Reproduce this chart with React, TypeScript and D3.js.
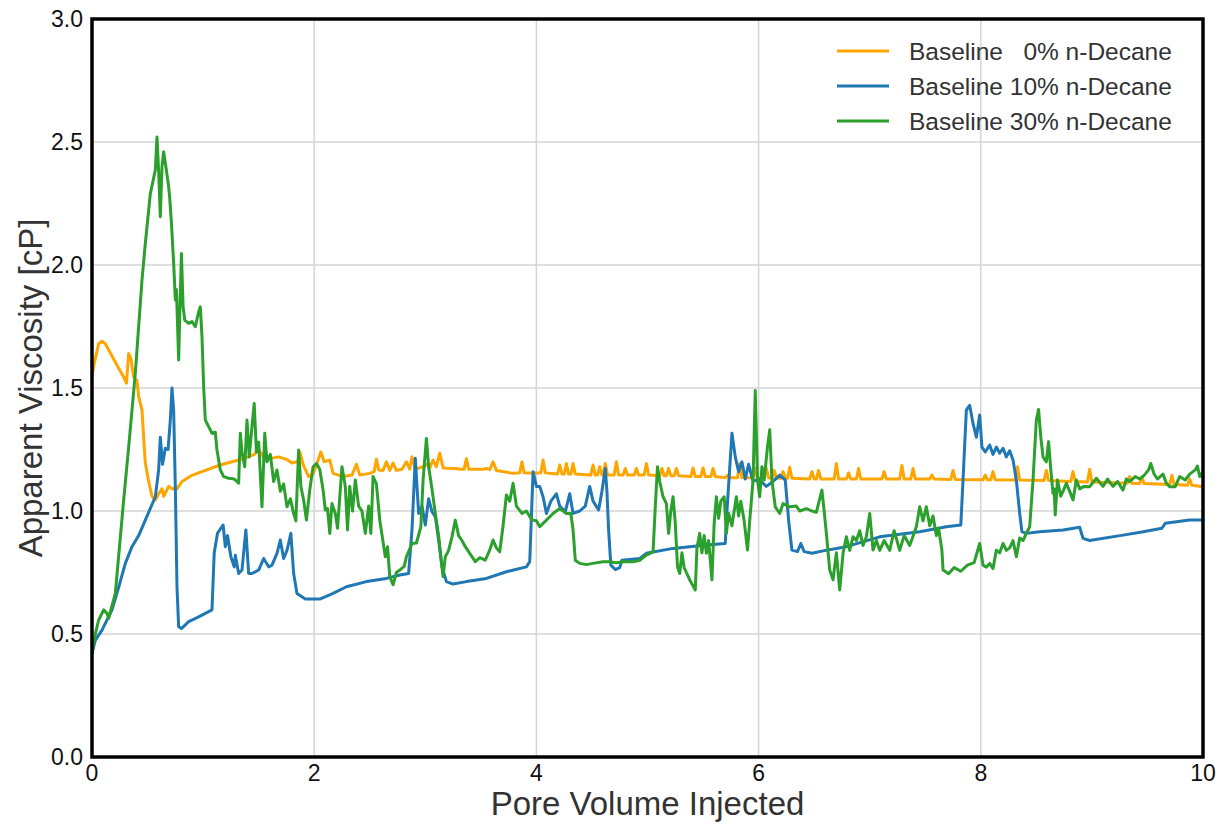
import React from "react";
import * as d3 from "d3";

// Apparent viscosity [cP] against pore volume injected, one array per run: [PV, cP]
const baseline0: [number, number][] = [
  [0, 1.55], [0.02, 1.6], [0.06, 1.68], [0.09, 1.69], [0.12, 1.68], [0.18, 1.63], [0.24, 1.58], [0.285, 1.545],
  [0.31, 1.52], [0.33, 1.64], [0.35, 1.62], [0.375, 1.545], [0.405, 1.53], [0.42, 1.465], [0.45, 1.41], [0.465, 1.3],
  [0.48, 1.195], [0.51, 1.12], [0.54, 1.06], [0.57, 1.045], [0.6, 1.07], [0.63, 1.09], [0.645, 1.06], [0.69, 1.1],
  [0.72, 1.09], [0.765, 1.09], [0.81, 1.12], [0.9, 1.145], [1.02, 1.165], [1.14, 1.185], [1.26, 1.2], [1.38, 1.215],
  [1.46, 1.23], [1.5, 1.25], [1.54, 1.22], [1.62, 1.215], [1.68, 1.22], [1.75, 1.21], [1.8, 1.195], [1.85, 1.2],
  [1.87, 1.24], [1.9, 1.19], [1.95, 1.14], [1.99, 1.15], [2.03, 1.2], [2.06, 1.24], [2.09, 1.2], [2.14, 1.207],
  [2.17, 1.153], [2.26, 1.14], [2.34, 1.146], [2.38, 1.19], [2.41, 1.146], [2.5, 1.153], [2.54, 1.16], [2.56, 1.21],
  [2.58, 1.167], [2.62, 1.165], [2.65, 1.2], [2.68, 1.165], [2.71, 1.195], [2.74, 1.165], [2.79, 1.17], [2.83, 1.2],
  [2.86, 1.17], [2.88, 1.22], [2.91, 1.17], [2.98, 1.18], [3.01, 1.19], [3.04, 1.175], [3.07, 1.207], [3.1, 1.18],
  [3.13, 1.235], [3.16, 1.175], [3.24, 1.173], [3.28, 1.173], [3.31, 1.17], [3.35, 1.17], [3.37, 1.213], [3.39, 1.17],
  [3.52, 1.17], [3.55, 1.173], [3.58, 1.168], [3.61, 1.2], [3.64, 1.165], [3.79, 1.153], [3.85, 1.155], [3.87, 1.2],
  [3.89, 1.155], [3.97, 1.153], [4.04, 1.155], [4.06, 1.207], [4.08, 1.155], [4.19, 1.15], [4.21, 1.187], [4.23, 1.15],
  [4.25, 1.15], [4.27, 1.193], [4.29, 1.15], [4.31, 1.15], [4.33, 1.193], [4.35, 1.15], [4.49, 1.146], [4.51, 1.187],
  [4.53, 1.146], [4.55, 1.146], [4.57, 1.18], [4.59, 1.146], [4.6, 1.146], [4.62, 1.193], [4.64, 1.146], [4.7, 1.146],
  [4.72, 1.2], [4.74, 1.146], [4.78, 1.146], [4.8, 1.173], [4.82, 1.146], [4.88, 1.146], [4.9, 1.173], [4.92, 1.146],
  [4.97, 1.146], [4.99, 1.193], [5.01, 1.146], [5.11, 1.143], [5.13, 1.173], [5.15, 1.143], [5.17, 1.143], [5.19, 1.173],
  [5.21, 1.143], [5.24, 1.143], [5.26, 1.173], [5.28, 1.143], [5.39, 1.14], [5.41, 1.175], [5.43, 1.14], [5.48, 1.14],
  [5.5, 1.175], [5.52, 1.14], [5.57, 1.14], [5.59, 1.173], [5.61, 1.14], [5.7, 1.135], [5.72, 1.145], [5.74, 1.135],
  [5.81, 1.135], [5.83, 1.193], [5.85, 1.135], [5.95, 1.135], [5.97, 1.173], [5.99, 1.135], [6.05, 1.134], [6.07, 1.173],
  [6.09, 1.134], [6.12, 1.134], [6.14, 1.165], [6.16, 1.134], [6.2, 1.133], [6.22, 1.16], [6.24, 1.133], [6.26, 1.133],
  [6.28, 1.178], [6.3, 1.133], [6.46, 1.13], [6.48, 1.16], [6.5, 1.13], [6.52, 1.13], [6.54, 1.165], [6.56, 1.13],
  [6.68, 1.13], [6.7, 1.193], [6.72, 1.13], [6.79, 1.13], [6.81, 1.155], [6.83, 1.13], [6.88, 1.13], [6.9, 1.173],
  [6.92, 1.13], [7.11, 1.13], [7.13, 1.16], [7.15, 1.13], [7.27, 1.13], [7.29, 1.185], [7.31, 1.13], [7.37, 1.13],
  [7.39, 1.173], [7.41, 1.13], [7.54, 1.13], [7.56, 1.146], [7.58, 1.13], [7.73, 1.128], [7.75, 1.165], [7.77, 1.128],
  [8.02, 1.127], [8.04, 1.146], [8.06, 1.127], [8.09, 1.127], [8.11, 1.16], [8.13, 1.127], [8.31, 1.126], [8.33, 1.18],
  [8.35, 1.126], [8.57, 1.124], [8.59, 1.165], [8.61, 1.124], [8.81, 1.12], [8.83, 1.16], [8.85, 1.12], [8.96, 1.118],
  [8.98, 1.17], [9.0, 1.118], [9.32, 1.113], [9.34, 1.14], [9.36, 1.113], [9.43, 1.112], [9.45, 1.135], [9.47, 1.112],
  [9.7, 1.108], [9.72, 1.145], [9.74, 1.108], [9.86, 1.105], [9.88, 1.13], [9.9, 1.105], [10, 1.098],
];

const baseline10: [number, number][] = [
  [0, 0.42], [0.03, 0.475], [0.09, 0.516], [0.18, 0.598], [0.24, 0.69], [0.3, 0.787], [0.36, 0.855],
  [0.42, 0.9], [0.48, 0.963], [0.57, 1.058], [0.6, 1.167], [0.615, 1.3], [0.635, 1.19], [0.66, 1.255],
  [0.685, 1.25], [0.705, 1.37], [0.72, 1.5], [0.735, 1.41], [0.75, 1.1], [0.765, 0.69], [0.78, 0.53], [0.805, 0.522],
  [0.87, 0.55], [0.96, 0.57], [1.02, 0.584], [1.08, 0.598], [1.1, 0.83], [1.13, 0.91], [1.18, 0.943], [1.2, 0.855],
  [1.22, 0.9], [1.25, 0.814], [1.28, 0.773], [1.29, 0.82], [1.32, 0.746], [1.35, 0.76], [1.385, 0.923], [1.41, 0.746],
  [1.44, 0.746], [1.5, 0.76], [1.545, 0.807], [1.59, 0.773], [1.62, 0.78], [1.665, 0.828], [1.695, 0.882], [1.725, 0.807],
  [1.755, 0.84], [1.79, 0.909], [1.815, 0.746], [1.845, 0.665], [1.92, 0.642], [2.05, 0.642], [2.17, 0.665], [2.29, 0.692],
  [2.47, 0.713], [2.65, 0.726], [2.77, 0.74], [2.85, 0.746], [2.88, 0.923], [2.91, 1.214], [2.94, 0.99], [2.97, 1.02],
  [3.0, 0.943], [3.03, 1.05], [3.06, 0.997], [3.09, 0.977], [3.12, 0.882], [3.15, 0.773], [3.19, 0.713], [3.25, 0.703],
  [3.37, 0.713], [3.55, 0.726], [3.73, 0.753], [3.91, 0.773], [3.94, 0.794], [3.97, 1.16], [4.0, 1.1], [4.03, 1.1],
  [4.06, 1.058], [4.09, 0.99], [4.13, 1.04], [4.18, 1.07], [4.21, 1.02], [4.26, 0.997], [4.3, 1.07], [4.33, 0.99],
  [4.39, 1.0], [4.44, 1.02], [4.48, 1.1], [4.51, 1.04], [4.56, 1.004], [4.59, 1.08], [4.62, 1.173], [4.635, 1.08],
  [4.65, 0.923], [4.67, 0.78], [4.71, 0.762], [4.75, 0.77], [4.77, 0.8], [4.93, 0.807], [4.99, 0.828], [5.23, 0.848],
  [5.53, 0.862], [5.7, 0.868], [5.71, 0.963], [5.76, 1.316], [5.79, 1.22], [5.82, 1.16], [5.85, 1.2], [5.88, 1.13],
  [5.91, 1.19], [5.95, 1.12], [6.0, 1.13], [6.07, 1.1], [6.13, 1.12], [6.19, 1.146], [6.24, 1.126], [6.27, 0.963],
  [6.3, 0.841], [6.35, 0.835], [6.38, 0.868], [6.41, 0.835], [6.48, 0.828], [6.58, 0.838], [6.79, 0.855], [7.09, 0.895],
  [7.45, 0.916], [7.69, 0.936], [7.82, 0.943], [7.84, 1.126], [7.87, 1.41], [7.9, 1.43], [7.93, 1.356], [7.96, 1.3],
  [7.99, 1.39], [8.01, 1.26], [8.04, 1.24], [8.08, 1.268], [8.11, 1.23], [8.14, 1.26], [8.17, 1.235], [8.2, 1.255],
  [8.23, 1.22], [8.26, 1.245], [8.29, 1.207], [8.32, 1.126], [8.35, 0.99], [8.37, 0.916], [8.41, 0.909], [8.53, 0.916],
  [8.74, 0.923], [8.89, 0.934], [8.92, 0.889], [8.98, 0.88], [9.28, 0.902], [9.45, 0.915], [9.63, 0.93], [9.66, 0.95],
  [9.88, 0.963], [10, 0.963],
];

const baseline30: [number, number][] = [
  [0, 0.42], [0.03, 0.5], [0.06, 0.557], [0.105, 0.598], [0.135, 0.584], [0.15, 0.564], [0.21, 0.665], [0.285, 1.045],
  [0.33, 1.26], [0.39, 1.56], [0.45, 1.939], [0.48, 2.088], [0.525, 2.29], [0.57, 2.386], [0.585, 2.52], [0.6, 2.38],
  [0.615, 2.196], [0.63, 2.4], [0.645, 2.46], [0.665, 2.4], [0.69, 2.318], [0.7, 2.27], [0.715, 2.17], [0.735, 2.007],
  [0.75, 1.858], [0.76, 1.9], [0.78, 1.614], [0.79, 1.8], [0.805, 2.047], [0.82, 1.83], [0.835, 1.776], [0.87, 1.763],
  [0.9, 1.77], [0.93, 1.749], [0.96, 1.81], [0.975, 1.83], [0.99, 1.709], [1.005, 1.505], [1.02, 1.37], [1.05, 1.343],
  [1.08, 1.316], [1.11, 1.32], [1.125, 1.248], [1.155, 1.167], [1.185, 1.14], [1.23, 1.133], [1.28, 1.13], [1.32, 1.113],
  [1.335, 1.316], [1.35, 1.24], [1.375, 1.18], [1.395, 1.37], [1.415, 1.22], [1.44, 1.343], [1.46, 1.437], [1.48, 1.24],
  [1.5, 1.28], [1.53, 1.017], [1.555, 1.316], [1.575, 1.2], [1.605, 1.23], [1.635, 1.12], [1.665, 1.167], [1.695, 1.08],
  [1.725, 1.11], [1.755, 1.017], [1.785, 1.05], [1.815, 0.99], [1.835, 0.96], [1.86, 1.248], [1.88, 1.1], [1.905, 1.045],
  [1.93, 0.963], [1.96, 1.085], [1.99, 1.18], [2.02, 1.193], [2.05, 1.17], [2.08, 1.085], [2.1, 1.004], [2.12, 1.01],
  [2.14, 0.909], [2.16, 1.03], [2.19, 0.99], [2.21, 0.93], [2.25, 1.18], [2.28, 1.1], [2.3, 0.923], [2.32, 1.1],
  [2.345, 1.0], [2.37, 1.126], [2.4, 1.02], [2.43, 1.0], [2.46, 0.909], [2.49, 1.02], [2.51, 0.909], [2.53, 1.14],
  [2.56, 1.11], [2.59, 0.963], [2.64, 0.814], [2.66, 0.855], [2.68, 0.733], [2.71, 0.7], [2.74, 0.75], [2.77, 0.76],
  [2.81, 0.775], [2.83, 0.814], [2.88, 0.868], [2.92, 0.87], [2.96, 0.936], [2.98, 1.126], [3.01, 1.295], [3.03, 1.18],
  [3.06, 1.09], [3.09, 0.99], [3.12, 0.9], [3.15, 0.773], [3.16, 0.733], [3.18, 0.814], [3.21, 0.84], [3.24, 0.895],
  [3.27, 0.963], [3.3, 0.9], [3.33, 0.88], [3.36, 0.855], [3.4, 0.828], [3.45, 0.794], [3.49, 0.81], [3.54, 0.8],
  [3.58, 0.841], [3.61, 0.882], [3.64, 0.85], [3.67, 0.834], [3.7, 0.94], [3.73, 1.065], [3.76, 1.04], [3.79, 1.113],
  [3.82, 1.02], [3.87, 0.99], [3.91, 1.0], [3.96, 0.963], [4.0, 0.96], [4.03, 0.936], [4.09, 0.963], [4.15, 0.99],
  [4.21, 1.01], [4.27, 0.99], [4.31, 0.99], [4.33, 0.923], [4.35, 0.8], [4.39, 0.787], [4.45, 0.782], [4.51, 0.787],
  [4.6, 0.794], [4.65, 0.794], [4.72, 0.79], [4.78, 0.794], [4.87, 0.794], [4.93, 0.8], [4.99, 0.821], [5.05, 0.834],
  [5.07, 1.017], [5.09, 1.18], [5.11, 1.12], [5.14, 1.058], [5.17, 1.03], [5.19, 0.909], [5.21, 1.0], [5.23, 1.058],
  [5.25, 0.95], [5.27, 0.773], [5.29, 0.746], [5.31, 0.83], [5.33, 0.77], [5.35, 0.75], [5.38, 0.72], [5.43, 0.679],
  [5.445, 0.85], [5.47, 0.909], [5.49, 0.83], [5.51, 0.9], [5.53, 0.828], [5.55, 0.88], [5.58, 0.72], [5.6, 0.95],
  [5.62, 1.058], [5.64, 0.97], [5.66, 1.04], [5.69, 1.058], [5.71, 0.909], [5.73, 0.99], [5.76, 0.94], [5.8, 1.058],
  [5.82, 0.98], [5.84, 1.04], [5.87, 0.96], [5.9, 0.841], [5.92, 0.96], [5.95, 1.126], [5.97, 1.49], [5.99, 1.126],
  [6.01, 1.058], [6.03, 1.18], [6.05, 1.126], [6.08, 1.26], [6.1, 1.33], [6.12, 1.126], [6.15, 1.017], [6.19, 0.99],
  [6.22, 1.03], [6.28, 1.017], [6.34, 1.02], [6.37, 1.0], [6.43, 1.01], [6.48, 1.0], [6.52, 0.995], [6.57, 1.085],
  [6.59, 1.0], [6.61, 0.909], [6.64, 0.76], [6.67, 0.72], [6.7, 0.83], [6.73, 0.679], [6.76, 0.828], [6.79, 0.895],
  [6.82, 0.84], [6.85, 0.895], [6.88, 0.88], [6.91, 0.92], [6.94, 0.86], [6.97, 0.895], [7.0, 0.99], [7.03, 0.841],
  [7.06, 0.88], [7.09, 0.84], [7.13, 0.88], [7.18, 0.84], [7.22, 0.92], [7.27, 0.84], [7.31, 0.9], [7.36, 0.86],
  [7.42, 0.936], [7.45, 1.017], [7.48, 0.96], [7.51, 1.017], [7.54, 0.94], [7.57, 0.98], [7.6, 0.9], [7.62, 0.93],
  [7.65, 0.841], [7.66, 0.76], [7.71, 0.745], [7.76, 0.77], [7.82, 0.755], [7.88, 0.78], [7.94, 0.79], [7.99, 0.868],
  [8.02, 0.78], [8.05, 0.772], [8.08, 0.787], [8.11, 0.766], [8.14, 0.841], [8.17, 0.83], [8.2, 0.868], [8.23, 0.84],
  [8.26, 0.85], [8.29, 0.88], [8.32, 0.814], [8.35, 0.89], [8.38, 0.88], [8.41, 0.909], [8.44, 0.936], [8.47, 1.126],
  [8.5, 1.37], [8.52, 1.413], [8.54, 1.3], [8.56, 1.22], [8.59, 1.2], [8.61, 1.282], [8.63, 1.167], [8.65, 1.072],
  [8.66, 1.09], [8.67, 0.984], [8.69, 1.126], [8.72, 1.06], [8.74, 1.08], [8.77, 1.113], [8.8, 1.08], [8.83, 1.045],
  [8.86, 1.126], [8.89, 1.09], [8.93, 1.1], [8.98, 1.099], [9.04, 1.133], [9.1, 1.1], [9.14, 1.13], [9.19, 1.1],
  [9.23, 1.12], [9.28, 1.085], [9.31, 1.13], [9.34, 1.12], [9.39, 1.14], [9.43, 1.13], [9.47, 1.145], [9.51, 1.167],
  [9.53, 1.193], [9.56, 1.15], [9.59, 1.13], [9.64, 1.15], [9.67, 1.113], [9.7, 1.099], [9.75, 1.099], [9.79, 1.14],
  [9.84, 1.126], [9.88, 1.15], [9.93, 1.167], [9.95, 1.183], [9.97, 1.14], [10, 1.16],
];

const seriesLabels = ["Baseline   0% n-Decane", "Baseline 10% n-Decane", "Baseline 30% n-Decane"];
const seriesColors = ["#ffa500", "#1f77b4", "#2ca02c"];
const xTicks = [0, 2, 4, 6, 8, 10];
const yTicks = [0, 0.5, 1.0, 1.5, 2.0, 2.5, 3.0];

const W = 1229;
const H = 825;
const left = 92;
const right = 1203;
const top = 19;
const bottom = 757;
const FONT = "'Liberation Sans', Arial, sans-serif";

export default function App() {
  const x = d3.scaleLinear().domain([0, 10]).range([left, right]);
  const y = d3.scaleLinear().domain([0, 3]).range([bottom, top]);
  const line = d3
    .line<[number, number]>()
    .x((d) => x(d[0]))
    .y((d) => y(d[1]));
  const series = [baseline0, baseline10, baseline30];

  return (
    <svg
      width={W}
      height={H}
      style={{ position: "absolute", left: 0, top: 0, background: "#fff" }}
      fontFamily={FONT}
    >
      <rect x={0} y={0} width={W} height={H} fill="#fff" />
      <defs>
        <clipPath id="plotArea">
          <rect x={left} y={top} width={right - left} height={bottom - top} />
        </clipPath>
      </defs>
      {/* grid */}
      <g stroke="#d5d5d5" strokeWidth={1.5}>
        {xTicks.map((t) => (
          <line key={"gx" + t} x1={x(t)} x2={x(t)} y1={top} y2={bottom} />
        ))}
        {yTicks.map((t) => (
          <line key={"gy" + t} x1={left} x2={right} y1={y(t)} y2={y(t)} />
        ))}
      </g>
      {/* data */}
      <g clipPath="url(#plotArea)" fill="none" strokeWidth={3} strokeLinejoin="round" strokeLinecap="round">
        {series.map((s, i) => (
          <path key={i} d={line(s) || ""} stroke={seriesColors[i]} />
        ))}
      </g>
      {/* frame */}
      <rect
        x={left}
        y={top}
        width={right - left}
        height={bottom - top}
        fill="none"
        stroke="#000"
        strokeWidth={3.5}
      />
      {/* tick labels */}
      <g fontSize={23} fill="#111">
        {xTicks.map((t) => (
          <text key={"tx" + t} x={x(t)} y={781} textAnchor="middle">
            {d3.format("d")(t)}
          </text>
        ))}
        {yTicks.map((t) => (
          <text key={"ty" + t} x={83} y={y(t) + 8} textAnchor="end">
            {d3.format(".1f")(t)}
          </text>
        ))}
      </g>
      {/* axis titles */}
      <text x={(left + right) / 2} y={815} textAnchor="middle" fontSize={33} fill="#333">
        Pore Volume Injected
      </text>
      <text
        transform={`translate(42, ${(top + bottom) / 2}) rotate(-90)`}
        textAnchor="middle"
        fontSize={33}
        fill="#333"
      >
        Apparent Viscosity [cP]
      </text>
      {/* legend */}
      <g>
        {seriesLabels.map((label, i) => {
          const ly = 51 + i * 35;
          return (
            <g key={label}>
              <line x1={837} x2={889} y1={ly} y2={ly} stroke={seriesColors[i]} strokeWidth={3} />
              <text
                x={909}
                y={ly + 8.5}
                fontSize={24.5}
                fill="#333"
                style={{ whiteSpace: "pre" }}
                xmlSpace="preserve"
              >
                {label}
              </text>
            </g>
          );
        })}
      </g>
    </svg>
  );
}
